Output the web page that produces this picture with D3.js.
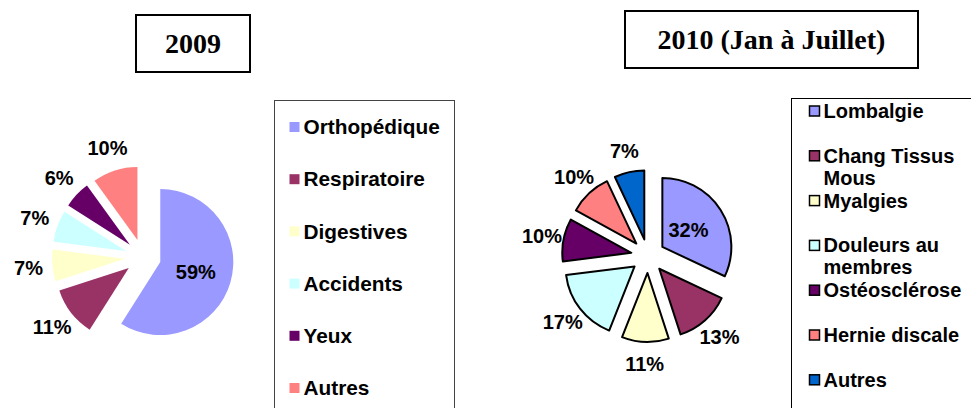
<!DOCTYPE html>
<html>
<head>
<meta charset="utf-8">
<script src="https://cdn.jsdelivr.net/npm/d3@7"></script>
<style>
  body { margin: 0; background: #fff; }
  text { font-family: Arial, "Liberation Sans", sans-serif; font-weight: bold; fill: #000; }
  .title { font-family: "Times New Roman", "Liberation Serif", serif; font-size: 28px; }
  .lbl { font-size: 20px; }
  .leg { font-size: 20px; }
</style>
</head>
<body>
<script>
// 2009
const cats2009 = ["Orthopédique", "Respiratoire", "Digestives", "Accidents", "Yeux", "Autres"];
const vals2009 = [59, 11, 7, 7, 6, 10];
const cols2009 = ["#9999FF", "#993366", "#FFFFCC", "#CCFFFF", "#660066", "#FF8080"];

// 2010
const cats2010 = ["Lombalgie", "Chang Tissus Mous", "Myalgies", "Douleurs au membres", "Ostéosclérose", "Hernie discale", "Autres"];
const vals2010 = [32, 13, 11, 17, 10, 10, 7];
const cols2010 = ["#9999FF", "#993366", "#FFFFCC", "#CCFFFF", "#660066", "#FF8080", "#0066CC"];

const titles = ["2009", "2010 (Jan à Juillet)"];

const svg = d3.select("body").append("svg")
    .attr("width", 971)
    .attr("height", 408);

// titre encadré
function titleBox(x, y, w, h, txt) {
    svg.append("rect")
        .attr("x", x).attr("y", y).attr("width", w).attr("height", h)
        .attr("fill", "#fff").attr("stroke", "#000").attr("stroke-width", 2);
    svg.append("text")
        .attr("class", "title")
        .attr("x", x + w / 2).attr("y", y + h / 2)
        .attr("dy", "0.35em")
        .attr("text-anchor", "middle")
        .text(txt);
}
titleBox(136, 15, 114, 57, titles[0]);
titleBox(625, 11, 293, 57, titles[1]);

// camembert éclaté
function drawPie(cfg) {
    const data = cfg.vals.map((v, i) => ({ name: cfg.cats[i], value: v, color: cfg.cols[i] }));
    const pie = d3.pie().value(d => d.value).sort(null);
    const arc = d3.arc().innerRadius(0).outerRadius(cfg.r);
    const arcs = pie(data);
    const g = svg.append("g").attr("transform", `translate(${cfg.cx},${cfg.cy})`);
    const mid = a => (a.startAngle + a.endAngle) / 2;

    g.selectAll("path.slice")
        .data(arcs)
        .enter().append("path")
        .attr("class", "slice")
        .attr("d", arc)
        .attr("transform", a => `translate(${Math.sin(mid(a)) * cfg.explode},${-Math.cos(mid(a)) * cfg.explode})`)
        .attr("fill", a => a.data.color)
        .attr("stroke", cfg.stroke ? "#000" : "none")
        .attr("stroke-width", cfg.stroke ? 2 : 0)
        .attr("stroke-linejoin", "round");

    g.selectAll("text.lbl")
        .data(arcs)
        .enter().append("text")
        .attr("class", "lbl")
        .attr("text-anchor", "middle")
        .attr("dy", "0.35em")
        .attr("x", (a, i) => Math.sin(mid(a)) * (i === 0 ? cfg.inR : cfg.outR))
        .attr("y", (a, i) => -Math.cos(mid(a)) * (i === 0 ? cfg.inR : cfg.outR))
        .text(a => a.data.value + "%");
}

drawPie({ cats: cats2009, vals: vals2009, cols: cols2009, cx: 143, cy: 257, r: 73, explode: 18, inR: 55, outR: 115, stroke: false });
drawPie({ cats: cats2010, vals: vals2010, cols: cols2010, cx: 648, cy: 256, r: 69, explode: 17, inR: 48, outR: 108, stroke: true });

// légendes (retour à la ligne si trop long)
function wrap(textSel, width) {
    textSel.each(function () {
        const t = d3.select(this);
        const words = t.text().split(" ");
        const x = t.attr("x");
        t.text(null);
        let line = [];
        let tspan = t.append("tspan").attr("x", x).attr("dy", "0.35em");
        words.forEach(w => {
            line.push(w);
            tspan.text(line.join(" "));
            if (tspan.node().getComputedTextLength() > width && line.length > 1) {
                line.pop();
                tspan.text(line.join(" "));
                line = [w];
                tspan = t.append("tspan").attr("x", x).attr("dy", 22).text(w);
            }
        });
    });
}

function legend(cfg) {
    svg.append("rect")
        .attr("x", cfg.x).attr("y", cfg.y).attr("width", cfg.w).attr("height", cfg.h)
        .attr("fill", "#fff").attr("stroke", cfg.border).attr("stroke-width", 1);
    const items = svg.selectAll(null)
        .data(cfg.cats)
        .enter().append("g")
        .attr("transform", (d, i) => `translate(${cfg.x + cfg.padX},${cfg.y0 + i * cfg.step})`);
    items.append("rect")
        .attr("x", 0).attr("y", -5).attr("width", 10).attr("height", 10)
        .attr("fill", (d, i) => cfg.cols[i])
        .attr("stroke", cfg.swStroke ? "#000" : "none")
        .attr("stroke-width", cfg.swStroke ? 1.5 : 0);
    items.append("text")
        .attr("class", "leg")
        .attr("x", 14).attr("y", 0)
        .style("font-size", cfg.fs + "px")
        .text(d => d)
        .call(wrap, 150);
}

legend({ cats: cats2009, cols: cols2009, x: 274.5, y: 100.5, w: 180, h: 320, border: "#444", padX: 15, y0: 127, step: 52.2, swStroke: false, fs: 20.8 });
legend({ cats: cats2010, cols: cols2010, x: 791.5, y: 98.5, w: 200, h: 320, border: "#000", padX: 18, y0: 111, step: 44.8, swStroke: true, fs: 20 });
</script>
</body>
</html>
